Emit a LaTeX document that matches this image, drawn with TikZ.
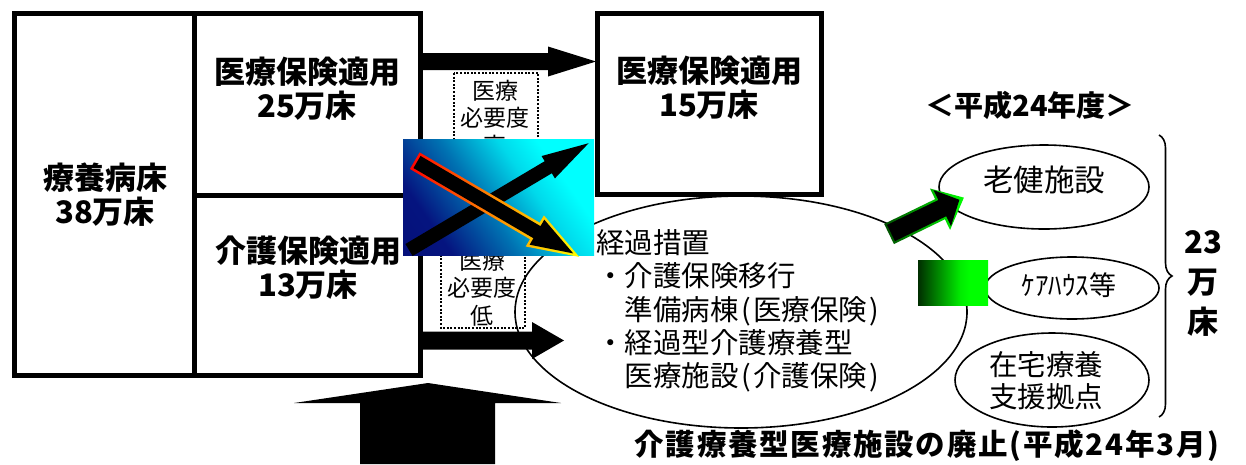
\documentclass[tikz,border=0pt]{standalone}
\usepackage{fontspec}
\setmainfont{Noto Sans CJK JP}
\usetikzlibrary{decorations.pathreplacing}
\pgfdeclarehorizontalshading{bluegrad}{100bp}{rgb(0bp)=(0.02,0.04,0.45); rgb(28bp)=(0.02,0.08,0.5); rgb(45bp)=(0,0.45,0.7); rgb(60bp)=(0,0.85,0.92); rgb(70bp)=(0,1,1); rgb(100bp)=(0,1,1)}
\pgfdeclarehorizontalshading{greengrad}{100bp}{rgb(0bp)=(0,0.18,0); rgb(25bp)=(0,0.18,0); rgb(55bp)=(0,0.92,0); rgb(62bp)=(0,1,0); rgb(100bp)=(0,1,0)}
\pgfdeclarehorizontalshading{redyel}{100bp}{rgb(0bp)=(1,0,0); rgb(25bp)=(1,0,0); rgb(50bp)=(1,0.55,0); rgb(75bp)=(1,1,0); rgb(100bp)=(1,1,0)}
\pgfdeclarehorizontalshading{grnline}{100bp}{rgb(0bp)=(0,0.3,0); rgb(25bp)=(0,0.3,0); rgb(75bp)=(0,1,0); rgb(100bp)=(0,1,0)}
% block arrow polygon in local coordinates: tail x, shaft half, head half, tip x, head base x
\newcommand\blockarrow[5]{(#1,-#2) -- (#5,-#2) -- (#5,-#3) -- (#4,0) -- (#5,#3) -- (#5,#2) -- (#1,#2) -- cycle}
\newcommand\lpar{\kern3pt(\kern2pt}
\newcommand\rpar{\kern2pt)}
\begin{document}
\begin{tikzpicture}[x=1pt,y=-1pt,
  box/.style={draw, line width=5pt},
  bt/.style={font=\fontsize{31}{34}\selectfont\bfseries, align=center, inner sep=0pt},
  dt/.style={font=\fontsize{23}{27.5}\selectfont, align=center, inner sep=0pt},
  dotbox/.style={draw, line width=2pt, dash pattern=on 2pt off 1.6pt},
  ell/.style={draw, line width=1.6pt},
  et/.style={font=\fontsize{29}{32}\selectfont, align=center, inner sep=0pt}]
\fill[white] (0,0) rectangle (1246,464);
\useasboundingbox (0,0) rectangle (1246,464);

% left block
\draw[box] (14.5,13.5) rectangle (194,375.5);
\draw[box] (194,13.5) rectangle (420,195);
\draw[box] (194,195) rectangle (420,375.5);
\node[bt] (ryoyo) at (105,195) {療養病床\\38万床};
\node[bt] (iryo25) at (307,89) {医療保険適用\\25万床};
\node[bt] (kaigo13) at (308,268) {介護保険適用\\13万床};

% right box
\draw[box] (597,13) rectangle (821,194.5);
\node[bt] (iryo15) at (709,88) {医療保険適用\\15万床};

% horizontal block arrows
\fill (420,53) -- (548,53) -- (548,46.5) -- (596,61.5) -- (548,76.5) -- (548,70) -- (420,70) -- cycle;
\fill (422,331.5) -- (532,331.5) -- (532,322) -- (564,340.5) -- (532,359) -- (532,349.5) -- (422,349.5) -- cycle;

% dotted boxes
\draw[dotbox] (454,73) rectangle (538,200);
\node[dt] (hi) at (495,118) {医療\\必要度\\高};
\draw[dotbox] (441,215) rectangle (525,328);
\node[dt] (lo) at (482,288) {医療\\必要度\\低};

% big ellipse
\draw[ell] (741,312) ellipse [x radius=226, y radius=116];
\node[font=\fontsize{28.5}{33.2}\selectfont, align=left, anchor=west, inner sep=0pt] (keika) at (596,311)
  {経過措置\\・介護保険移行\\\hspace*{1em}準備病棟\lpar 医療保険\rpar\\・経過型介護療養型\\\hspace*{1em}医療施設\lpar 介護保険\rpar};

% gradient panel with crossing arrows
\shade[shading=bluegrad, shading angle=35] (403,139) rectangle (594,255);
\begin{scope}[shift={(409,250)}, rotate=30.73]
  \fill \blockarrow{0}{7}{13}{209}{162};
\end{scope}
\begin{scope}[shift={(417,162)}, rotate=-30.33]
  \shade[shading=redyel] \blockarrow{-2.6}{9.6}{18}{188}{136.5};
  \fill \blockarrow{0}{7}{14.5}{181}{139};
\end{scope}

% bottom up arrow
\fill (294,403) -- (428,383) -- (561,403) -- (495,403) -- (495,464) -- (360,464) -- (360,403) -- cycle;

% right side
\node[font=\fontsize{29}{32}\selectfont\bfseries, inner sep=0pt] (year) at (1030,105) {＜平成24年度＞};
\draw[ell] (1044,187) ellipse [x radius=105, y radius=42];
\node[et, font=\fontsize{30.5}{32}\selectfont] (roken) at (1044,180) {老健施設};
\draw[ell] (1072,288) ellipse [x radius=87, y radius=31];
\node[et, font=\fontsize{27}{30}\selectfont] (care) at (1069,285) {ｹｱﾊｳｽ等};
\draw[ell] (1052,380) ellipse [x radius=97, y radius=47];
\node[et, font=\fontsize{28.5}{32}\selectfont] (zaitaku) at (1046,381) {在宅療養\\支援拠点};
\draw[line width=1.6pt, decorate, decoration={brace, amplitude=13}] (1159,135) -- (1159,417);
\node[font=\fontsize{31}{40}\selectfont\bfseries, align=center, inner sep=0pt] (total) at (1203,283) {23\\万\\床};

% green items
\shade[shading=greengrad] (918,260) rectangle (988,305);
\begin{scope}[shift={(891,233)}, rotate=25.9]
  \shade[shading=grnline] \blockarrow{-2.2}{11.2}{23}{81}{54.5};
  \fill \blockarrow{0}{9}{20}{76}{57};
\end{scope}

% bottom caption
\node[font=\fontsize{29.5}{31}\selectfont\bfseries\addfontfeatures{LetterSpace=6}, inner sep=0pt] (haishi) at (927,446) {介護療養型医療施設の廃止(平成24年3月)};
\end{tikzpicture}
\end{document}
